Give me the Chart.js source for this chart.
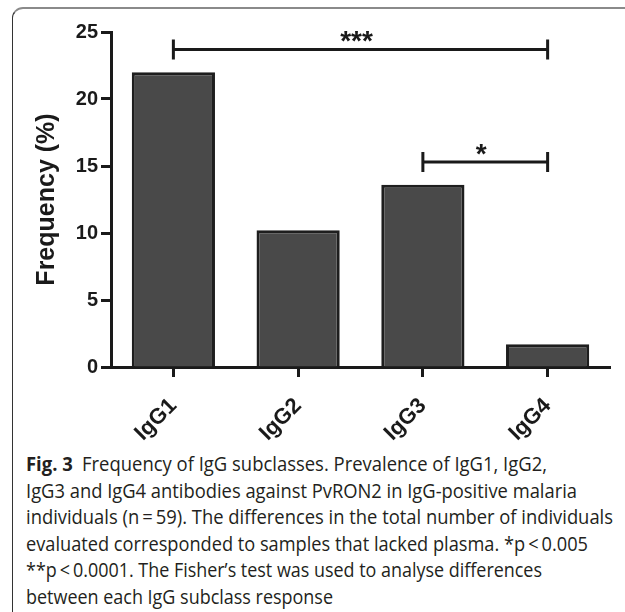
<!DOCTYPE html>
<html>
<head>
<meta charset="utf-8">
<script src="https://cdn.jsdelivr.net/npm/chart.js@4.4.0/dist/chart.umd.min.js"></script>
<style>
html, body { margin: 0; padding: 0; background: #fff; }
body { width: 625px; height: 612px; position: relative; overflow: hidden; }
#frame {
    position: absolute; left: 12px; top: 7px; width: 700px; height: 603px;
    border-top: 2px solid #8a8a8a; border-left: 1.5px solid #333;
    border-top-left-radius: 11px;
}
#chart { position: absolute; left: 0; top: 0; }
#caption {
    position: absolute; left: 26px; top: 451px;
    font-family: 'Open Sans', sans-serif; font-size: 20px; line-height: 26.5px; color: #231f20;
}
#caption div { white-space: nowrap; width: max-content; transform-origin: 0 0; }
</style>
</head>
<body>
<div id="frame"></div>
<canvas id="chart" width="625" height="450"></canvas>
<div id="caption">
    <div><b>Fig. 3</b>&ensp;Frequency of IgG subclasses. Prevalence of IgG1, IgG2,</div>
    <div>IgG3 and IgG4 antibodies against PvRON2 in IgG-positive malaria</div>
    <div>individuals (n&thinsp;=&thinsp;59). The differences in the total number of individuals</div>
    <div>evaluated corresponded to samples that lacked plasma. *p&thinsp;&lt;&thinsp;0.005</div>
    <div>**p&thinsp;&lt;&thinsp;0.0001. The Fisher’s test was used to analyse differences</div>
    <div>between each IgG subclass response</div>
</div>
<script>
// data
const categories = ['IgG1', 'IgG2', 'IgG3', 'IgG4'];
const frequency = [22.0, 10.2, 13.6, 1.7];
const yTicks = [0, 5, 10, 15, 20, 25];

// significance brackets (category index from/to, height in %)
const sigFrom = [0, 2];
const sigTo = [3, 3];
const sigLevel = [23.7, 15.3];
const sigLabel = ['***', '*'];

const fontFamily = 'Arial, "Liberation Sans", sans-serif';
const ink = '#1a1a1a';

// Bracket lines + stars
const brackets = {
    id: 'brackets',
    afterDatasetsDraw(chart) {
        const { ctx, scales: { x, y } } = chart;
        ctx.save();
        ctx.strokeStyle = ink;
        ctx.fillStyle = ink;
        ctx.lineWidth = 3;
        ctx.font = 'bold 28px ' + fontFamily;
        ctx.textAlign = 'center';
        ctx.textBaseline = 'alphabetic';
        sigFrom.forEach((f, i) => {
            const x1 = x.getPixelForValue(f);
            const x2 = x.getPixelForValue(sigTo[i]);
            const yy = y.getPixelForValue(sigLevel[i]);
            ctx.beginPath();
            ctx.moveTo(x1, yy); ctx.lineTo(x2, yy);
            ctx.moveTo(x1, yy - 10); ctx.lineTo(x1, yy + 10);
            ctx.moveTo(x2, yy - 10); ctx.lineTo(x2, yy + 10);
            ctx.stroke();
            ctx.fillText(sigLabel[i], (x1 + x2) / 2 - 4, yy + 1);
        });
        ctx.restore();
    }
};

const axisGrid = { drawOnChartArea: false, tickLength: 10, tickWidth: 3, tickColor: ink, offset: false };
const axisBorder = { width: 3, color: ink };

new Chart(document.getElementById('chart'), {
    type: 'bar',
    data: {
        labels: categories,
        datasets: [{
            data: frequency,
            backgroundColor: '#494949',
            borderColor: '#1e1e1e',
            borderWidth: 3,
            barPercentage: 0.667,
            categoryPercentage: 1
        }]
    },
    options: {
        responsive: false,
        animation: false,
        layout: { padding: { left: 32, top: 32, right: 15, bottom: 0 } },
        plugins: { legend: { display: false }, tooltip: { enabled: false } },
        scales: {
            x: {
                grid: axisGrid,
                border: axisBorder,
                ticks: {
                    minRotation: 45, maxRotation: 45, padding: 16, color: ink,
                    font: { family: fontFamily, size: 22, weight: 'bold' }
                },
                afterFit(s) { s.height = 450 - 367; }
            },
            y: {
                min: 0, max: 25,
                afterBuildTicks(s) { s.ticks = yTicks.map(v => ({ value: v })); },
                grid: axisGrid,
                border: axisBorder,
                ticks: {
                    padding: 3, color: ink,
                    font: { family: fontFamily, size: 20, weight: 'bold' }
                },
                title: {
                    display: true, text: 'Frequency (%)', color: ink, padding: 0,
                    font: { family: fontFamily, size: 25, weight: 'bold' }
                },
                afterFit(s) { s.width = 111 - 32; }
            }
        }
    },
    plugins: [brackets]
});

// Caption: stretch each line to the width it has in the figure
const captionRight = [547, 577, 613, 588, 542, 333];
document.querySelectorAll('#caption div').forEach((line, i) => {
    const w = line.getBoundingClientRect().width;
    line.style.transform = `scaleX(${(captionRight[i] - 26) / w})`;
});
</script>
</body>
</html>
